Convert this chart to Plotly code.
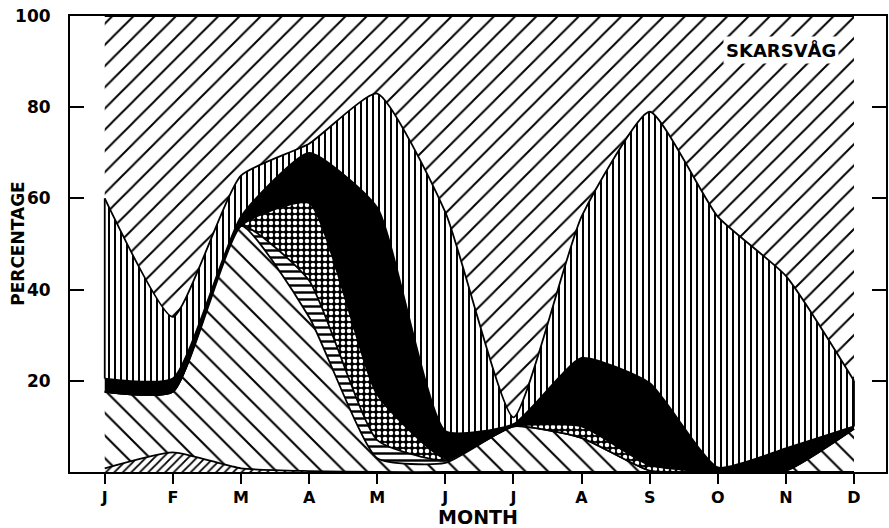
import numpy as np
import plotly.graph_objects as go

months = ["J", "F", "M", "A", "M", "J", "J", "A", "S", "O", "N", "D"]
x = list(range(len(months)))

# layer thicknesses (percent), bottom to top
fine_diag = [0.8, 4.3, 0.8, 0.2, 0, 0, 0, 0, 0, 0, 0, 0]
back_diag = [16.8, 13.3, 53.2, 33.8, 3, 2, 10, 7.5, 0.3, 0, 0.3, 9.5]
horiz = [0, 0, 0, 8, 4, 0.5, 0, 0, 0, 0, 0, 0]
cross = [0, 0, 0, 17, 10, 0.5, 0, 2.5, 1.2, 0, 0.2, 0]
solid = [2.9, 2.9, 2, 11, 41, 6, 0.5, 15, 18, 1, 4.7, 0.5]
vert = [39.5, 13.5, 9, 2, 25, 48, 1.5, 31, 59.5, 55, 37.8, 10]
top = [40, 66, 35, 28, 17, 43, 88, 44, 21, 44, 57, 80]

yticks = [20, 40, 60, 80, 100]

FONT = "DejaVu Sans"

layers = [
    (fine_diag, dict(shape="/", size=6, solidity=0.3, fgcolor="black", bgcolor="white"), None),
    (back_diag, dict(shape="\\", size=16, solidity=0.13, fgcolor="black", bgcolor="white"), None),
    (horiz, dict(shape="-", size=7, solidity=0.35, fgcolor="black", bgcolor="white"), None),
    (cross, dict(shape=".", size=6, solidity=0.45, fgcolor="white", bgcolor="black"), None),
    (solid, None, "black"),
    (vert, dict(shape="|", size=6, solidity=0.33, fgcolor="black", bgcolor="white"), None),
    (top, dict(shape="/", size=15, solidity=0.13, fgcolor="black", bgcolor="white"), None),
]

fig = go.Figure()
for vals, pat, fc in layers:
    kw = dict(x=x, y=vals, mode="lines", stackgroup="one",
              line=dict(color="black", width=1.8, shape="spline", smoothing=0.5),
              hoverinfo="skip", showlegend=False)
    if pat is not None:
        kw["fillpattern"] = dict(fillmode="replace", **pat)
        kw["fillcolor"] = "white"
    else:
        kw["fillcolor"] = fc
    fig.add_trace(go.Scatter(**kw))

# vertical edges of the vertical-hatched band at the first and last month
cum = np.cumsum([fine_diag, back_diag, horiz, cross, solid, vert], axis=0)
for i in (0, len(months) - 1):
    fig.add_trace(go.Scatter(x=[x[i], x[i]], y=[cum[4][i], cum[5][i]], mode="lines",
                             line=dict(color="black", width=1.8),
                             hoverinfo="skip", showlegend=False))

fig.add_annotation(x=9.93, y=92.5, xref="x", yref="y", text="<b>SKARSVÅG</b>",
                   showarrow=False, bgcolor="white", borderpad=2,
                   font=dict(family=FONT, size=18, color="black"))

# y-axis title
fig.add_annotation(x=-0.064, y=0.5, xref="paper", yref="paper", text="<b>PERCENTAGE</b>",
                   textangle=-90, showarrow=False, xanchor="center", yanchor="middle",
                   font=dict(family=FONT, size=17, color="black"))

fig.update_layout(
    width=889, height=528,
    margin=dict(l=70, r=3, t=16, b=56, autoexpand=False),
    paper_bgcolor="white", plot_bgcolor="white",
    font=dict(family=FONT, color="black"),
)
fig.update_xaxes(
    range=[-0.51, 11.47], tickvals=x, ticktext=months, automargin=False,
    showgrid=False, zeroline=False, showline=True, linecolor="black", linewidth=2,
    mirror=True, ticks="outside", ticklen=10, tickwidth=2, tickcolor="black",
    tickfont=dict(family=FONT, size=16, weight="bold"),
    title=dict(text="MONTH", font=dict(family=FONT, size=19, weight="bold"), standoff=2),
)
fig.update_yaxes(
    range=[0, 100], tickvals=yticks, ticktext=[str(v) for v in yticks], automargin=False,
    showgrid=False, zeroline=False, showline=True, linecolor="black", linewidth=2,
    mirror="ticks", ticks="inside", ticklen=14, tickwidth=2, tickcolor="black",
    ticklabelstandoff=14,
    tickfont=dict(family=FONT, size=17, weight="bold"),
)

fig.write_html("out.html")
